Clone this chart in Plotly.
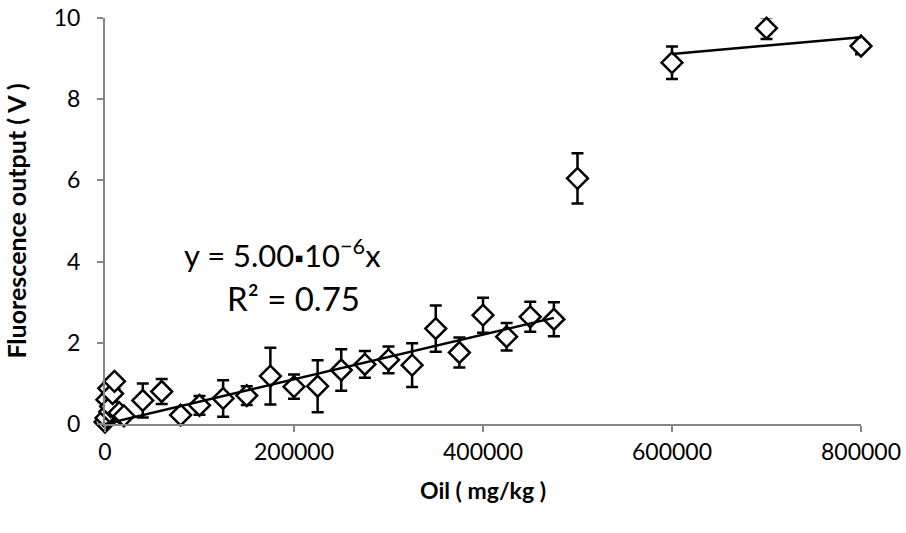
import numpy as np
import plotly.graph_objects as go

# Data
oil = [0, 1000, 2000, 4000, 5000, 6000, 8000, 10000, 15000, 20000,
       40000, 60000, 80000, 100000, 125000, 150000, 175000, 200000, 225000,
       250000, 275000, 300000, 325000, 350000, 375000, 400000, 425000, 450000,
       475000, 500000, 600000, 700000, 800000]
fluor = [0.05, 0.15, 0.6, 0.88, 0.3, 0.43, 0.75, 1.05, 0.28, 0.2,
         0.58, 0.8, 0.22, 0.46, 0.63, 0.7, 1.18, 0.92, 0.93,
         1.33, 1.47, 1.58, 1.45, 2.35, 1.76, 2.68, 2.15, 2.64,
         2.58, 6.05, 8.9, 9.75, 9.31]
err = [0.04, 0.05, 0.06, 0.05, 0.05, 0.05, 0.06, 0.06, 0.05, 0.05,
       0.42, 0.31, 0.05, 0.23, 0.45, 0.23, 0.7, 0.3, 0.64,
       0.51, 0.33, 0.33, 0.54, 0.57, 0.37, 0.43, 0.34, 0.37,
       0.42, 0.62, 0.4, 0.27, 0.2]

low_max = 475000
high_min = 600000

x_arr = np.array(oil, dtype=float)
y_arr = np.array(fluor, dtype=float)
lo = x_arr <= low_max
hi = x_arr >= high_min
# lower trendline: linear fit through the origin
slope_lo = float(np.sum(x_arr[lo] * y_arr[lo]) / np.sum(x_arr[lo] ** 2))
p_hi = np.polyfit(x_arr[hi], y_arr[hi], 1)
xl = np.array([0.0, x_arr[lo].max()])
xh = np.array([x_arr[hi].min(), x_arr[hi].max()])

font = "Lato, 'Open Sans', sans-serif"

fig = go.Figure()
fig.add_trace(go.Scatter(
    x=oil, y=fluor, mode="markers",
    marker=dict(symbol="diamond", size=16, color="white",
                line=dict(color="black", width=2.5)),
    error_y=dict(type="data", array=err, visible=True, color="black",
                 thickness=2.5, width=6),
    cliponaxis=False, showlegend=False))
fig.add_trace(go.Scatter(x=xl, y=slope_lo * xl, mode="lines",
                         line=dict(color="black", width=2.5),
                         cliponaxis=False, showlegend=False))
fig.add_trace(go.Scatter(x=xh, y=np.polyval(p_hi, xh), mode="lines",
                         line=dict(color="black", width=2.5),
                         cliponaxis=False, showlegend=False))

fig.add_annotation(x=188000, y=4.2, xref="x", yref="y", showarrow=False,
                   text="y = 5.00<span style='font-size:24px'>\u25aa</span>10<sup>\u22126</sup>x",
                   font=dict(family=font, size=31, color="black"))
fig.add_annotation(x=199000, y=3.1, xref="x", yref="y", showarrow=False,
                   text="R\u00b2 = 0.75",
                   font=dict(family=font, size=33, color="black"))

axis_common = dict(showline=True, linecolor="#868686", linewidth=2,
                   ticks="outside", ticklen=6, tickwidth=2, tickcolor="#868686",
                   showgrid=False, zeroline=False, automargin=False,
                   tickfont=dict(family=font, size=23, color="black"))

fig.update_xaxes(range=[0, 800000], tickvals=[0, 200000, 400000, 600000, 800000],
                 ticktext=["0", "200000", "400000", "600000", "800000"],
                 title=dict(text="<b>Oil ( mg/kg )</b>",
                            font=dict(family=font, size=23, color="black"),
                            standoff=19),
                 **axis_common)
fig.update_yaxes(range=[0, 10], tickvals=[0, 2, 4, 6, 8, 10],
                 title=dict(text="<b>Fluorescence output ( V )</b>",
                            font=dict(family=font, size=25, color="black"),
                            standoff=20),
                 ticklabelstandoff=12,
                 **axis_common)

fig.update_layout(width=906, height=533, margin=dict(l=105, r=45, t=18, b=109),
                  paper_bgcolor="white", plot_bgcolor="white")

fig.write_html("out.html")
